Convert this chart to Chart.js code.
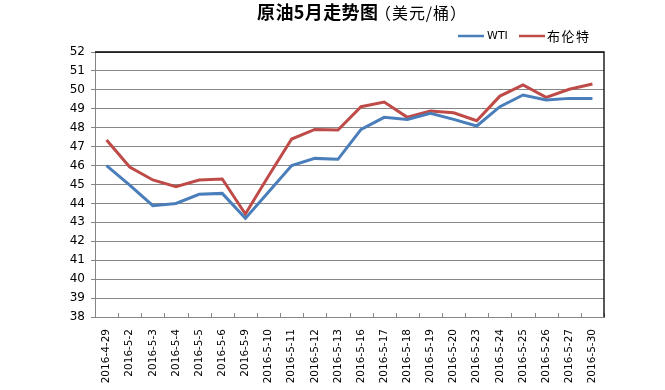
<!DOCTYPE html>
<html>
<head>
<meta charset="utf-8">
<script src="https://cdn.jsdelivr.net/npm/chart.js@4"></script>
<style>
  html, body { margin: 0; padding: 0; background: #fff; }
  #wrap { width: 665px; height: 390px; }
</style>
</head>
<body>
<div id="wrap"><canvas id="oilChart" width="665" height="390"></canvas></div>
<script>
const dates = ['2016-4-29', '2016-5-2', '2016-5-3', '2016-5-4', '2016-5-5', '2016-5-6',
  '2016-5-9', '2016-5-10', '2016-5-11', '2016-5-12', '2016-5-13', '2016-5-16',
  '2016-5-17', '2016-5-18', '2016-5-19', '2016-5-20', '2016-5-23', '2016-5-24',
  '2016-5-25', '2016-5-26', '2016-5-27', '2016-5-30'];
const wti = [46.0, 44.97, 43.88, 44.0, 44.48, 44.53, 43.21, 44.6, 46.0, 46.38, 46.33, 47.91,
  48.55, 48.44, 48.76, 48.44, 48.09, 49.11, 49.73, 49.46, 49.55, 49.55];
const brent = [47.35, 45.92, 45.24, 44.88, 45.24, 45.29, 43.44, 45.45, 47.4, 47.91, 47.88, 49.11,
  49.36, 48.55, 48.88, 48.79, 48.37, 49.67, 50.26, 49.6, 50.03, 50.31];
const yMin = 38, yMax = 52;

const seriesNames = ['WTI', '布伦特'];
const seriesColors = ['#4a7ebb', '#be4b48'];

// fit a text run between two x positions by spreading the letters
function fitText(ctx, text, x0, x1, y) {
  ctx.letterSpacing = '0px';
  const w = ctx.measureText(text).width;
  const n = [...text].length;
  const sp = (x1 - x0 - w) / Math.max(n - 1, 1);
  ctx.letterSpacing = sp + 'px';
  ctx.fillText(text, x0, y);
  ctx.letterSpacing = '0px';
}

// title, legend, plot border and inward x ticks
const decor = {
  id: 'decor',
  afterDraw(chart) {
    const ctx = chart.ctx;
    const area = chart.chartArea;
    const x = chart.scales.x;
    ctx.save();

    // inward tick marks between categories
    ctx.strokeStyle = '#868686';
    ctx.lineWidth = 1;
    for (let i = 0; i <= dates.length; i++) {
      const px = Math.round(x.getPixelForValue(i - 0.5)) + 0.5;
      ctx.beginPath();
      ctx.moveTo(px, area.bottom);
      ctx.lineTo(px, area.bottom - 4);
      ctx.stroke();
    }

    // black top and right border
    ctx.strokeStyle = '#000';
    ctx.lineWidth = 1.3;
    ctx.beginPath();
    ctx.moveTo(area.left, area.top);
    ctx.lineTo(area.right, area.top);
    ctx.lineTo(area.right, area.bottom);
    ctx.stroke();

    // title
    ctx.fillStyle = '#000';
    ctx.textBaseline = 'middle';
    ctx.textAlign = 'left';
    ctx.font = 'bold 18px "Noto Sans CJK SC"';
    fitText(ctx, '原油5月走势图', 257, 378, 12);
    ctx.font = '16px "Noto Sans CJK SC"';
    fitText(ctx, '（美元/桶）', 375, 466, 13);

    // legend
    const items = [{ x: 458, tx: 487 }, { x: 519, tx: 547 }];
    items.forEach((it, i) => {
      ctx.strokeStyle = seriesColors[i];
      ctx.lineWidth = 2.5;
      ctx.beginPath();
      ctx.moveTo(it.x, 36);
      ctx.lineTo(it.x + 26, 36);
      ctx.stroke();
      ctx.fillStyle = '#000';
      if (i === 0) {
        ctx.font = '11px "DejaVu Sans"';
        ctx.letterSpacing = '0px';
      } else {
        ctx.font = '13px "Noto Sans CJK SC"';
        ctx.letterSpacing = '1.5px';
      }
      ctx.fillText(seriesNames[i], it.tx, 36);
    });
    ctx.restore();
  }
};

new Chart(document.getElementById('oilChart').getContext('2d'), {
  type: 'line',
  data: {
    labels: dates,
    datasets: [{
      label: seriesNames[0],
      data: wti,
      borderColor: seriesColors[0],
      borderWidth: 3,
      pointRadius: 0,
      tension: 0,
      fill: false
    }, {
      label: seriesNames[1],
      data: brent,
      borderColor: seriesColors[1],
      borderWidth: 3,
      pointRadius: 0,
      tension: 0,
      fill: false
    }]
  },
  options: {
    responsive: false,
    animation: false,
    layout: { padding: { left: 0, right: 61, top: 52, bottom: 0 } },
    plugins: {
      legend: { display: false },
      title: { display: false },
      tooltip: { enabled: false }
    },
    scales: {
      x: {
        offset: true,
        afterFit: s => { s.height = 73; },
        grid: { display: false, drawTicks: false },
        border: { color: '#868686', width: 1 },
        ticks: {
          autoSkip: false,
          minRotation: 90,
          maxRotation: 90,
          padding: 12,
          color: '#000',
          font: { family: 'DejaVu Sans', size: 10.5 }
        }
      },
      y: {
        min: yMin,
        max: yMax,
        afterFit: s => { s.width = 95; },
        grid: { color: '#868686', lineWidth: 1, tickLength: 4 },
        border: { color: '#868686', width: 1 },
        ticks: {
          stepSize: 1,
          padding: 6,
          color: '#000',
          font: { family: 'DejaVu Sans', size: 12 }
        }
      }
    }
  },
  plugins: [decor]
});
</script>
</body>
</html>
